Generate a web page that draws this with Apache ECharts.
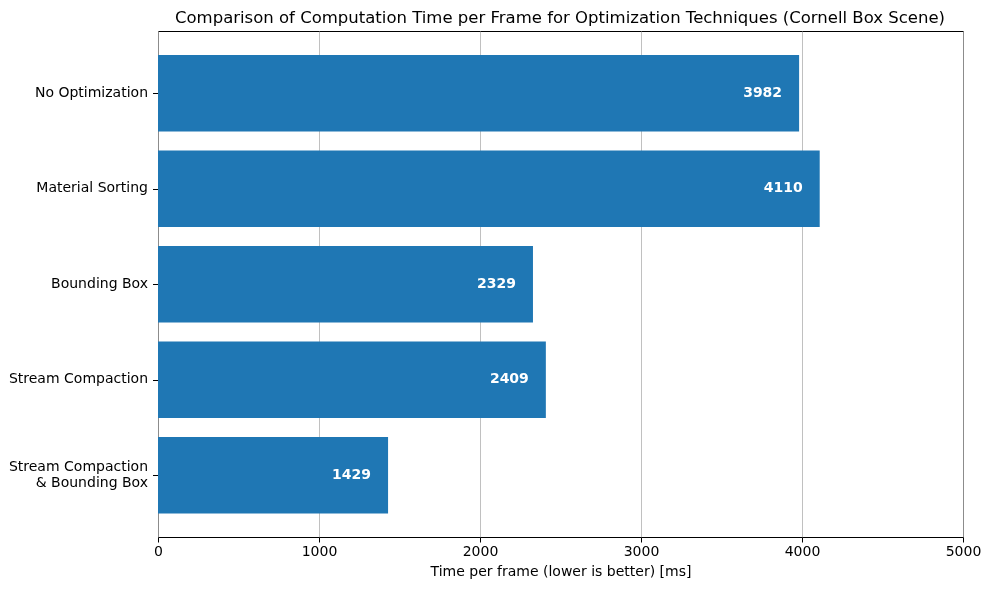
<!DOCTYPE html>
<html>
<head>
<meta charset="utf-8">
<script src="https://cdn.jsdelivr.net/npm/echarts@6/dist/echarts.min.js"></script>
<style>
  html, body { margin: 0; padding: 0; background: #fff; }
  #chart { width: 990px; height: 590px; }
</style>
</head>
<body>
<div id="chart"></div>
<script>
const categories = [
  'No Optimization',
  'Material Sorting',
  'Bounding Box',
  'Stream Compaction',
  'Stream Compaction\n& Bounding Box'
]
const frameTimes = [3982, 4110, 2329, 2409, 1429]
const xTicks = [0, 1000, 2000, 3000, 4000, 5000]

const font = 'DejaVu Sans'
const chart = echarts.init(document.getElementById('chart'))

chart.setOption({
  backgroundColor: '#fff',
  animation: false,
  title: {
    text: 'Comparison of Computation Time per Frame for Optimization Techniques (Cornell Box Scene)',
    left: 555,
    top: 5,
    textAlign: 'center',
    textStyle: { fontFamily: font, fontSize: 16.5, fontWeight: 'normal', color: '#000' }
  },
  grid: [
    // frame + x axis
    { left: 158.5, right: 26.5, top: 31.5, bottom: 52.5, show: true, borderColor: '#000', borderWidth: 1, backgroundColor: 'transparent' },
    // bars, with matplotlib-like margins
    { left: 158, right: 27, top: 45.5, bottom: 67 }
  ],
  xAxis: [{
    gridIndex: 0,
    type: 'value',
    min: xTicks[0],
    max: xTicks[xTicks.length - 1],
    interval: 1000,
    axisLine: { show: false },
    axisTick: { show: true, length: 5, lineStyle: { color: '#000' } },
    axisLabel: { margin: 8, fontFamily: font, fontSize: 14, color: '#000', formatter: v => String(v) },
    splitLine: { show: true, lineStyle: { color: '#b0b0b0', width: 0.8 } },
    name: 'Time per frame (lower is better) [ms]',
    nameLocation: 'middle',
    nameGap: 28,
    nameTextStyle: { fontFamily: font, fontSize: 14, color: '#000' }
  }, {
    gridIndex: 1,
    type: 'value',
    min: xTicks[0],
    max: xTicks[xTicks.length - 1],
    show: false
  }],
  yAxis: [{
    gridIndex: 0,
    type: 'value',
    show: false
  }, {
    gridIndex: 1,
    type: 'category',
    inverse: true,
    data: categories,
    axisLine: { show: false },
    axisTick: { show: true, alignWithLabel: true, length: 5, lineStyle: { color: '#000' } },
    axisLabel: { margin: 10, fontFamily: font, fontSize: 14, color: '#000', lineHeight: 16, align: 'right', padding: [3, 0, 0, 0] }
  }],
  series: [{
    type: 'bar',
    xAxisIndex: 1,
    yAxisIndex: 1,
    barWidth: '80%',
    data: frameTimes,
    itemStyle: { color: '#1f77b4' },
    label: {
      show: true,
      position: 'insideRight',
      distance: 17,
      color: '#fff',
      fontFamily: font,
      fontSize: 14,
      fontWeight: 'bold'
    }
  }]
})
</script>
</body>
</html>
